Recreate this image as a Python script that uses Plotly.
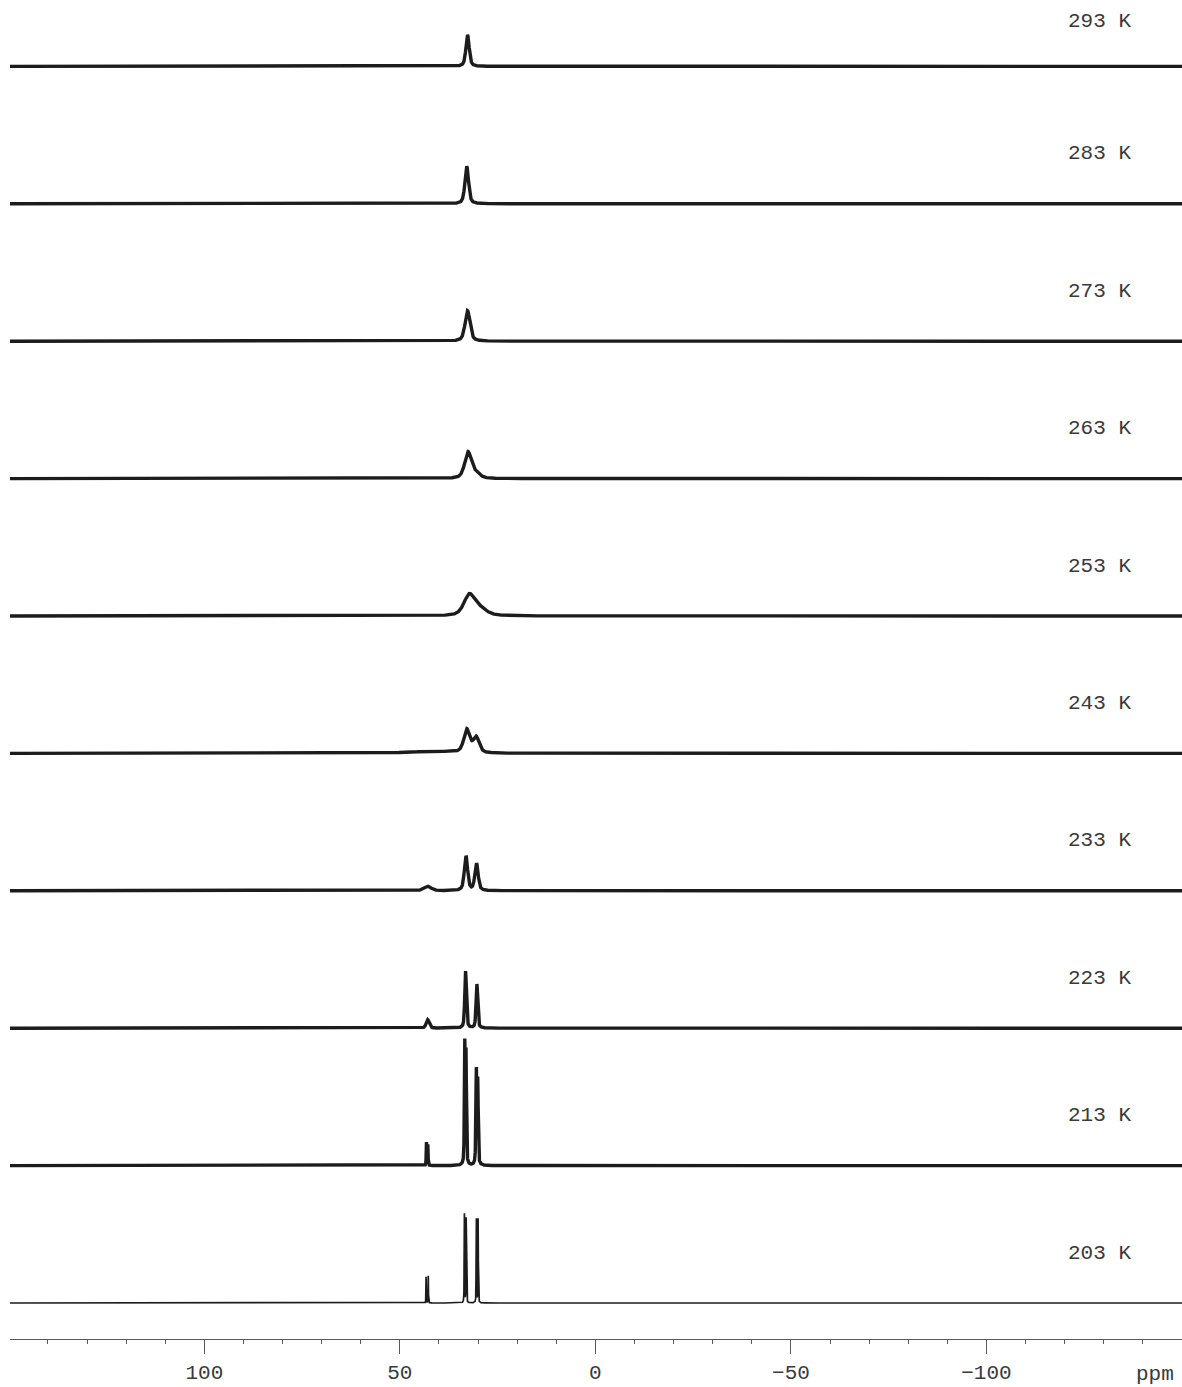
import numpy as np
import plotly.graph_objects as go

# Variable-temperature 13C spectra, top (warmest) to bottom (coldest)
temperatures_K = [293, 283, 273, 263, 253, 243, 233, 223, 213, 203]

# Resonances per spectrum: (shift / ppm, intensity, linewidth FWHM / ppm)
peaks_293 = [(32.7, 31.5, 1.0)]
peaks_283 = [(32.9, 37.5, 1.1)]
peaks_273 = [(32.7, 30.5, 1.5)]
peaks_263 = [(32.6, 26.0, 2.0), (30.6, 5.0, 2.4)]
peaks_253 = [(32.3, 19.0, 3.2), (29.9, 7.5, 4.5)]
peaks_243 = [(32.9, 23.0, 1.8), (30.5, 15.5, 1.8), (42.0, 2.0, 14.0)]
peaks_233 = [(33.1, 34.5, 1.0), (30.4, 27.0, 1.0), (42.9, 4.5, 2.2)]
peaks_223 = [(33.2, 57.0, 0.5), (30.3, 44.0, 0.5), (42.9, 8.5, 0.9)]
peaks_213 = [(33.4, 118.0, 0.25), (33.1, 108.0, 0.25),
             (30.45, 92.0, 0.28), (30.1, 82.0, 0.28),
             (43.2, 23.0, 0.15), (42.85, 21.0, 0.15)]
peaks_203 = [(33.5, 89.0, 0.12), (33.05, 87.0, 0.12),
             (30.45, 86.0, 0.12), (30.0, 84.0, 0.12),
             (43.3, 26.0, 0.1), (42.75, 28.0, 0.1)]

peak_tables = [peaks_293, peaks_283, peaks_273, peaks_263, peaks_253,
               peaks_243, peaks_233, peaks_223, peaks_213, peaks_203]

# Axis
x_range = [149.7, -150.0]
major_ticks = [100, 50, 0, -50, -100]

# Uniform chemical-shift grid
shift = np.arange(150.0, -150.001, -0.02)


def pseudo_voigt(x, center, height, fwhm, eta=0.5):
    d = (x - center) / fwhm
    lor = 1.0 / (1.0 + 4.0 * d * d)
    gau = np.exp(-4.0 * np.log(2.0) * d * d)
    return height * (eta * lor + (1.0 - eta) * gau)


def spectrum(peaks):
    y = np.zeros_like(shift)
    for c, h, w in peaks:
        y += pseudo_voigt(shift, c, h, w)
    return y


plot_h = 1339
spacing = 137.4
bottom_base = 36.0
n = len(temperatures_K)
label_font = dict(family="Liberation Mono, monospace", size=21, color="#3a3a3a")

fig = go.Figure()
annotations = []
for i, (temp, peaks) in enumerate(zip(temperatures_K, peak_tables)):
    base = bottom_base + spacing * (n - 1 - i)
    width = 1.7 if temp == 203 else 3.4
    fig.add_trace(go.Scatter(
        x=shift, y=base + spectrum(peaks), mode="lines",
        line=dict(color="#1c1c1c", width=width),
        showlegend=False, hoverinfo="skip",
    ))
    annotations.append(dict(
        x=-129, y=base + (45 if i == 0 else 50), xref="x", yref="y",
        text=f"{temp} K", showarrow=False, font=label_font,
        xanchor="center", yanchor="middle",
    ))

annotations.append(dict(
    x=-143, y=-(1374 - 1339) / plot_h, xref="x", yref="paper",
    text="ppm", showarrow=False, font=label_font,
    xanchor="center", yanchor="middle",
))

fig.update_layout(
    width=1182, height=1387,
    margin=dict(l=10, r=0, t=0, b=1387 - plot_h),
    paper_bgcolor="white", plot_bgcolor="white",
    annotations=annotations,
    xaxis=dict(
        range=x_range, showgrid=False, zeroline=False,
        showline=True, linecolor="#5a5a5a", linewidth=1.2,
        tickmode="array", tickvals=major_ticks,
        ticks="outside", ticklen=14, tickwidth=1.2, tickcolor="#5a5a5a",
        tickfont=label_font,
        minor=dict(dtick=10, tick0=0, ticks="outside", ticklen=4,
                   tickwidth=1.2, tickcolor="#5a5a5a"),
    ),
    yaxis=dict(range=[0, plot_h], visible=False, showgrid=False, zeroline=False),
)

fig.write_html("out.html")
